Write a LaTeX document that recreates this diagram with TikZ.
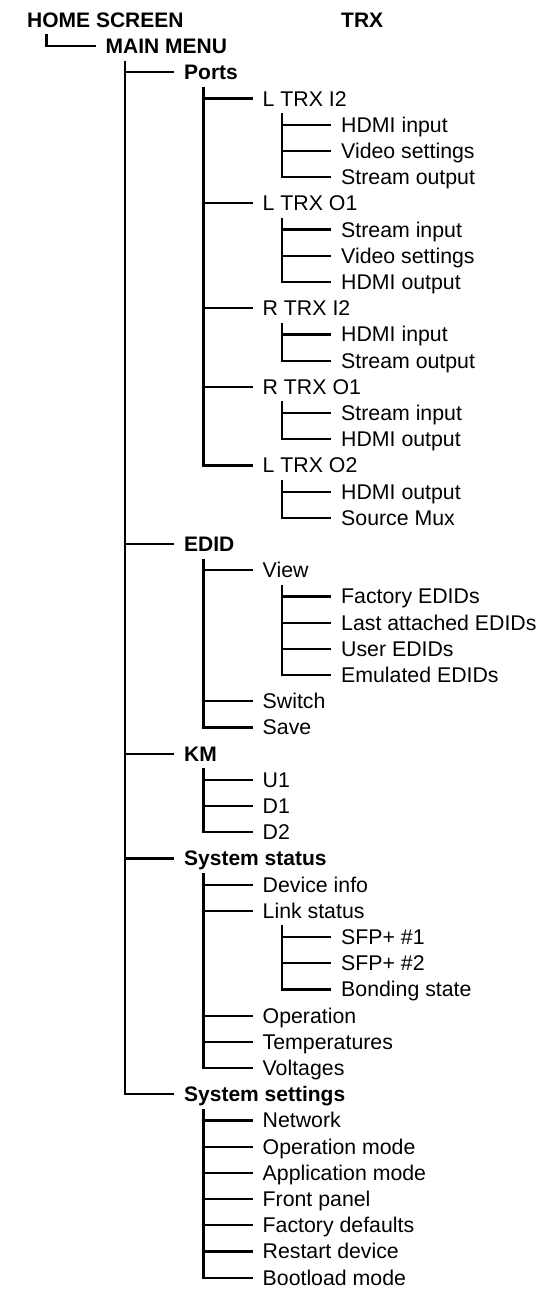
\documentclass[tikz,border=0pt]{standalone}
\usepackage{fontspec}
\setmainfont{Liberation Sans}

\begin{document}
\begin{tikzpicture}[
  x=78.5pt, y=-26.2pt,
  item/.style={anchor=west, inner sep=0pt, text height=15pt, text depth=0pt, font=\fontsize{21.3}{25}\selectfont},
  head/.style={item, font=\fontsize{21}{25}\selectfont\bfseries},
  branch/.style={line width=2.2pt}
]
\useasboundingbox (-27pt,20pt) rectangle (517pt,-1269pt);

\node[head] (home) at (0,0) {HOME SCREEN};
\node[head] (trx) at (4,0) {TRX};
\node[head] (mainmenu) at (1,1) {MAIN MENU};

% Ports
\node[head] (ports) at (2,2) {Ports};
\node[item] (ltrxi2) at (3,3) {L TRX I2};
\node[item] (i2hdmi) at (4,4) {HDMI input};
\node[item] (i2video) at (4,5) {Video settings};
\node[item] (i2stream) at (4,6) {Stream output};
\node[item] (ltrxo1) at (3,7) {L TRX O1};
\node[item] (o1stream) at (4,8) {Stream input};
\node[item] (o1video) at (4,9) {Video settings};
\node[item] (o1hdmi) at (4,10) {HDMI output};
\node[item] (rtrxi2) at (3,11) {R TRX I2};
\node[item] (ri2hdmi) at (4,12) {HDMI input};
\node[item] (ri2stream) at (4,13) {Stream output};
\node[item] (rtrxo1) at (3,14) {R TRX O1};
\node[item] (ro1stream) at (4,15) {Stream input};
\node[item] (ro1hdmi) at (4,16) {HDMI output};
\node[item] (ltrxo2) at (3,17) {L TRX O2};
\node[item] (o2hdmi) at (4,18) {HDMI output};
\node[item] (o2mux) at (4,19) {Source Mux};

% EDID
\node[head] (edid) at (2,20) {EDID};
\node[item] (view) at (3,21) {View};
\node[item] (factory) at (4,22) {Factory EDIDs};
\node[item] (lastatt) at (4,23) {Last attached EDIDs};
\node[item] (user) at (4,24) {User EDIDs};
\node[item] (emulated) at (4,25) {Emulated EDIDs};
\node[item] (switch) at (3,26) {Switch};
\node[item] (save) at (3,27) {Save};

% KM
\node[head] (km) at (2,28) {KM};
\node[item] (u1) at (3,29) {U1};
\node[item] (d1) at (3,30) {D1};
\node[item] (d2) at (3,31) {D2};

% System status
\node[head] (status) at (2,32) {System status};
\node[item] (devinfo) at (3,33) {Device info};
\node[item] (link) at (3,34) {Link status};
\node[item] (sfp1) at (4,35) {SFP+ \#1};
\node[item] (sfp2) at (4,36) {SFP+ \#2};
\node[item] (bonding) at (4,37) {Bonding state};
\node[item] (operation) at (3,38) {Operation};
\node[item] (temps) at (3,39) {Temperatures};
\node[item] (volts) at (3,40) {Voltages};

% System settings
\node[head] (settings) at (2,41) {System settings};
\node[item] (network) at (3,42) {Network};
\node[item] (opmode) at (3,43) {Operation mode};
\node[item] (appmode) at (3,44) {Application mode};
\node[item] (panel) at (3,45) {Front panel};
\node[item] (defaults) at (3,46) {Factory defaults};
\node[item] (restart) at (3,47) {Restart device};
\node[item] (bootload) at (3,48) {Bootload mode};

% stems
\coordinate (homestem) at ([shift={(19.5pt,-14.5pt)}]home.west);
\coordinate (menustem) at ([shift={(19.5pt,-14.5pt)}]mainmenu.west);
\coordinate (portsstem) at ([shift={(19.5pt,-14.5pt)}]ports.west);
\coordinate (i2stem) at ([shift={(19.5pt,-14.5pt)}]ltrxi2.west);
\coordinate (o1stem) at ([shift={(19.5pt,-14.5pt)}]ltrxo1.west);
\coordinate (ri2stem) at ([shift={(19.5pt,-14.5pt)}]rtrxi2.west);
\coordinate (ro1stem) at ([shift={(19.5pt,-14.5pt)}]rtrxo1.west);
\coordinate (o2stem) at ([shift={(19.5pt,-14.5pt)}]ltrxo2.west);
\coordinate (edidstem) at ([shift={(19.5pt,-14.5pt)}]edid.west);
\coordinate (viewstem) at ([shift={(19.5pt,-14.5pt)}]view.west);
\coordinate (kmstem) at ([shift={(19.5pt,-14.5pt)}]km.west);
\coordinate (statusstem) at ([shift={(19.5pt,-14.5pt)}]status.west);
\coordinate (linkstem) at ([shift={(19.5pt,-14.5pt)}]link.west);
\coordinate (settingsstem) at ([shift={(19.5pt,-14.5pt)}]settings.west);

\draw[branch] (homestem) |- ([xshift=-10pt]mainmenu.west);

\draw[branch] (menustem) |- ([xshift=-10pt]settings.west)
  (menustem |- ports) -- ([xshift=-10pt]ports.west)
  (menustem |- edid) -- ([xshift=-10pt]edid.west)
  (menustem |- km) -- ([xshift=-10pt]km.west)
  (menustem |- status) -- ([xshift=-10pt]status.west);

\draw[branch] (portsstem) |- ([xshift=-10pt]ltrxo2.west)
  (portsstem |- ltrxi2) -- ([xshift=-10pt]ltrxi2.west)
  (portsstem |- ltrxo1) -- ([xshift=-10pt]ltrxo1.west)
  (portsstem |- rtrxi2) -- ([xshift=-10pt]rtrxi2.west)
  (portsstem |- rtrxo1) -- ([xshift=-10pt]rtrxo1.west);

\draw[branch] (i2stem) |- ([xshift=-10pt]i2stream.west)
  (i2stem |- i2hdmi) -- ([xshift=-10pt]i2hdmi.west)
  (i2stem |- i2video) -- ([xshift=-10pt]i2video.west);

\draw[branch] (o1stem) |- ([xshift=-10pt]o1hdmi.west)
  (o1stem |- o1stream) -- ([xshift=-10pt]o1stream.west)
  (o1stem |- o1video) -- ([xshift=-10pt]o1video.west);

\draw[branch] (ri2stem) |- ([xshift=-10pt]ri2stream.west)
  (ri2stem |- ri2hdmi) -- ([xshift=-10pt]ri2hdmi.west);

\draw[branch] (ro1stem) |- ([xshift=-10pt]ro1hdmi.west)
  (ro1stem |- ro1stream) -- ([xshift=-10pt]ro1stream.west);

\draw[branch] (o2stem) |- ([xshift=-10pt]o2mux.west)
  (o2stem |- o2hdmi) -- ([xshift=-10pt]o2hdmi.west);

\draw[branch] (edidstem) |- ([xshift=-10pt]save.west)
  (edidstem |- view) -- ([xshift=-10pt]view.west)
  (edidstem |- switch) -- ([xshift=-10pt]switch.west);

\draw[branch] (viewstem) |- ([xshift=-10pt]emulated.west)
  (viewstem |- factory) -- ([xshift=-10pt]factory.west)
  (viewstem |- lastatt) -- ([xshift=-10pt]lastatt.west)
  (viewstem |- user) -- ([xshift=-10pt]user.west);

\draw[branch] (kmstem) |- ([xshift=-10pt]d2.west)
  (kmstem |- u1) -- ([xshift=-10pt]u1.west)
  (kmstem |- d1) -- ([xshift=-10pt]d1.west);

\draw[branch] (statusstem) |- ([xshift=-10pt]volts.west)
  (statusstem |- devinfo) -- ([xshift=-10pt]devinfo.west)
  (statusstem |- link) -- ([xshift=-10pt]link.west)
  (statusstem |- operation) -- ([xshift=-10pt]operation.west)
  (statusstem |- temps) -- ([xshift=-10pt]temps.west);

\draw[branch] (linkstem) |- ([xshift=-10pt]bonding.west)
  (linkstem |- sfp1) -- ([xshift=-10pt]sfp1.west)
  (linkstem |- sfp2) -- ([xshift=-10pt]sfp2.west);

\draw[branch] (settingsstem) |- ([xshift=-10pt]bootload.west)
  (settingsstem |- network) -- ([xshift=-10pt]network.west)
  (settingsstem |- opmode) -- ([xshift=-10pt]opmode.west)
  (settingsstem |- appmode) -- ([xshift=-10pt]appmode.west)
  (settingsstem |- panel) -- ([xshift=-10pt]panel.west)
  (settingsstem |- defaults) -- ([xshift=-10pt]defaults.west)
  (settingsstem |- restart) -- ([xshift=-10pt]restart.west);
\end{tikzpicture}
\end{document}
